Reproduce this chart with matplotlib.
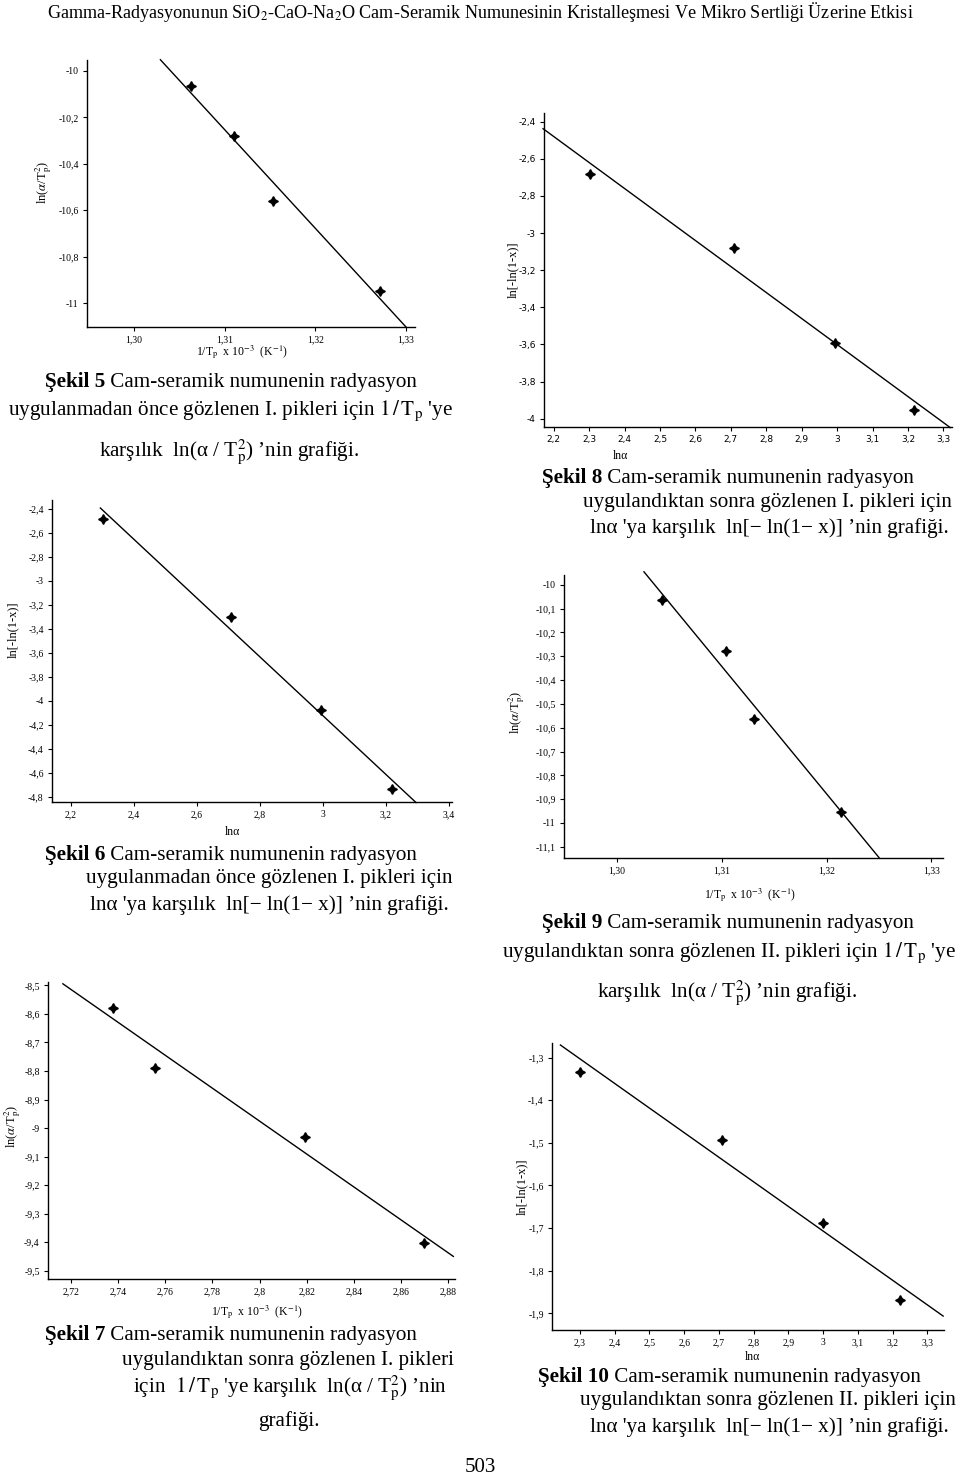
import numpy as np
import matplotlib
matplotlib.use("Agg")
import matplotlib.pyplot as plt

plt.rcParams['font.family'] = ['Liberation Serif', 'DejaVu Serif']
plt.rcParams['mathtext.fontset'] = 'stix'

W, H = 960, 1481

# ---------------- data ----------------
fig5_x = [1.3063, 1.3110, 1.3153, 1.3271]
fig5_y = [-10.063, -10.279, -10.560, -10.948]
fig5_fit = [1.3029, 1.3300]

fig8_x = [2.302, 2.708, 2.995, 3.216]
fig8_y = [-2.684, -3.083, -3.590, -3.955]
fig8_fit = [2.170, 3.319]

fig6_x = [2.304, 2.708, 2.995, 3.219]
fig6_y = [-2.483, -3.302, -4.074, -4.731]
fig6_fit = [2.294, 3.296]

fig9_x = [1.3043, 1.3104, 1.3131, 1.3214]
fig9_y = [-10.064, -10.279, -10.563, -10.954]
fig9_fit = [1.3026, 1.3250]

fig7_x = [2.7378, 2.7558, 2.8192, 2.8697]
fig7_y = [-8.578, -8.789, -9.031, -9.403]
fig7_fit = [2.7167, 2.8821]

fig10_x = [2.301, 2.709, 2.999, 3.222]
fig10_y = [-1.333, -1.4945, -1.688, -1.869]
fig10_fit = [2.2436, 3.3453]

# tick values / labels
t5_x = [1.30, 1.31, 1.32, 1.33]
t5_xl = ["1,30", "1,31", "1,32", "1,33"]
t5_y = [-10.0, -10.2, -10.4, -10.6, -10.8, -11.0]
t5_yl = ["-10", "-10,2", "-10,4", "-10,6", "-10,8", "-11"]

t8_x = [2.2, 2.3, 2.4, 2.5, 2.6, 2.7, 2.8, 2.9, 3.0, 3.1, 3.2, 3.3]
t8_xl = ["2,2", "2,3", "2,4", "2,5", "2,6", "2,7", "2,8", "2,9", "3", "3,1", "3,2", "3,3"]
t8_y = [-2.4, -2.6, -2.8, -3.0, -3.2, -3.4, -3.6, -3.8, -4.0]
t8_yl = ["-2,4", "-2,6", "-2,8", "-3", "-3,2", "-3,4", "-3,6", "-3,8", "-4"]

t6_x = [2.2, 2.4, 2.6, 2.8, 3.0, 3.2, 3.4]
t6_xl = ["2,2", "2,4", "2,6", "2,8", "3", "3,2", "3,4"]
t6_y = [-2.4, -2.6, -2.8, -3.0, -3.2, -3.4, -3.6, -3.8, -4.0, -4.2, -4.4, -4.6, -4.8]
t6_yl = ["-2,4", "-2,6", "-2,8", "-3", "-3,2", "-3,4", "-3,6", "-3,8", "-4", "-4,2", "-4,4", "-4,6", "-4,8"]

t9_x = [1.30, 1.31, 1.32, 1.33]
t9_xl = ["1,30", "1,31", "1,32", "1,33"]
t9_y = [-10.0, -10.1, -10.2, -10.3, -10.4, -10.5, -10.6, -10.7, -10.8, -10.9, -11.0, -11.1]
t9_yl = ["-10", "-10,1", "-10,2", "-10,3", "-10,4", "-10,5", "-10,6", "-10,7", "-10,8", "-10,9", "-11", "-11,1"]

t7_x = [2.72, 2.74, 2.76, 2.78, 2.80, 2.82, 2.84, 2.86, 2.88]
t7_xl = ["2,72", "2,74", "2,76", "2,78", "2,8", "2,82", "2,84", "2,86", "2,88"]
t7_y = [-8.5, -8.6, -8.7, -8.8, -8.9, -9.0, -9.1, -9.2, -9.3, -9.4, -9.5]
t7_yl = ["-8,5", "-8,6", "-8,7", "-8,8", "-8,9", "-9", "-9,1", "-9,2", "-9,3", "-9,4", "-9,5"]

t10_x = [2.3, 2.4, 2.5, 2.6, 2.7, 2.8, 2.9, 3.0, 3.1, 3.2, 3.3]
t10_xl = ["2,3", "2,4", "2,5", "2,6", "2,7", "2,8", "2,9", "3", "3,1", "3,2", "3,3"]
t10_y = [-1.3, -1.4, -1.5, -1.6, -1.7, -1.8, -1.9]
t10_yl = ["-1,3", "-1,4", "-1,5", "-1,6", "-1,7", "-1,8", "-1,9"]

YL_A = r"ln($\alpha$/T$_\mathrm{p}^{2}$)"
YL_B = "ln[-ln(1-x)]"
XL_A = r"1/T$_\mathrm{p}$  x 10$^{-3}$  (K$^{-1}$)"
XL_B = "lnα"

fig = plt.figure(figsize=(W / 100, H / 100), dpi=100)


def fx(px):
    return px / W


def fy(py):
    return 1 - py / H


def panel(box, xlim, ylim, xs, ys, fit, xt, xtl, yt, ytl, ylab, ylab_pos, xlab, xlab_pos,
          tick_font=None):
    l, r, t, b = box
    ax = fig.add_axes([fx(l), fy(b), fx(r) - fx(l), (b - t) / H])
    ax.set_xlim(*xlim)
    ax.set_ylim(*ylim)
    for s in ("top", "right"):
        ax.spines[s].set_visible(False)
    for s in ("left", "bottom"):
        ax.spines[s].set_linewidth(1.0)
    ax.set_xticks(xt)
    ax.set_xticklabels(xtl)
    ax.set_yticks(yt)
    ax.set_yticklabels(ytl)
    ax.tick_params(direction="out", length=3, width=0.8, labelsize=7, pad=3)
    if tick_font:
        for lab in ax.get_xticklabels() + ax.get_yticklabels():
            lab.set_family(tick_font)
            lab.set_fontsize(6.5)
    # least-squares line drawn across the given x-range
    k, c = np.polyfit(xs, ys, 1)
    fx_arr = np.array(fit)
    ax.plot(fx_arr, k * fx_arr + c, color="black", lw=1.0, clip_on=False)
    ax.plot(xs, ys, linestyle="none", marker=(4, 1, 0), markersize=7,
            color="black", clip_on=False)
    fig.text(fx(ylab_pos[0]), fy(ylab_pos[1]), ylab, rotation=90,
             ha="center", va="center", fontsize=9)
    fig.text(fx(xlab_pos[0]), fy(xlab_pos[1]), xlab,
             ha="center", va="center", fontsize=8.5)
    return ax


# Şekil 5
panel((87, 415, 60, 327), (1.2948, 1.3310), (-11.103, -9.953),
      fig5_x, fig5_y, fig5_fit, t5_x, t5_xl, t5_y, t5_yl,
      YL_A, (44, 183), XL_A, (242, 352))
# Şekil 8
panel((544, 952, 113, 427), (2.1726, 3.324), (-4.045, -2.353),
      fig8_x, fig8_y, fig8_fit, t8_x, t8_xl, t8_y, t8_yl,
      YL_B, (513, 270), XL_B, (620, 456), tick_font="DejaVu Sans")
# Şekil 6
panel((52, 452, 500, 802), (2.1406, 3.41), (-4.842, -2.325),
      fig6_x, fig6_y, fig6_fit, t6_x, t6_xl, t6_y, t6_yl,
      YL_B, (13, 630), XL_B, (232, 832))
# Şekil 9
panel((564, 943, 575, 858), (1.29498, 1.3311), (-11.147, -9.959),
      fig9_x, fig9_y, fig9_fit, t9_x, t9_xl, t9_y, t9_yl,
      YL_A, (517, 713), XL_A, (750, 895))
# Şekil 7
panel((48, 455, 982, 1279), (2.7104, 2.8828), (-9.529, -8.488),
      fig7_x, fig7_y, fig7_fit, t7_x, t7_xl, t7_y, t7_yl,
      YL_A, (13, 1127), XL_A, (257, 1312))
# Şekil 10
panel((552, 944, 1043, 1330), (2.2194, 3.3478), (-1.9391, -1.2658),
      fig10_x, fig10_y, fig10_fit, t10_x, t10_xl, t10_y, t10_yl,
      YL_B, (522, 1187), XL_B, (752, 1357))

CAP = 15.2


def line(x, y, s, ha="left"):
    return fig.text(fx(x), fy(y), s, ha=ha, va="center", fontsize=CAP)


def head(x, y, bold, rest):
    tb = fig.text(fx(x), fy(y), bold, ha="left", va="center", fontsize=CAP,
                  fontweight="bold")
    return fig.text(0, 0, rest, fontsize=CAP, va="bottom", ha="left",
                    transform=matplotlib.transforms.offset_copy(
                        fig.transFigure, fig=fig, x=0, y=0))


def head(x, y, bold, rest):
    tb = fig.text(fx(x), fy(y), bold, ha="left", va="center", fontsize=CAP,
                  fontweight="bold")
    return plt.annotate(rest, xy=(1, 0), xycoords=tb, va="bottom", ha="left",
                        fontsize=CAP, annotation_clip=False)


TP = r"$1\,/\,\mathrm{T_p}$"
LNA = r"ln(α / T$_\mathrm{p}^{2}$)"
LNLN = "ln[− ln(1− x)]"

# header
fig.text(0.5, fy(12), "Gamma-Radyasyonunun SiO$_2$-CaO-Na$_2$O Cam-Seramik Numunesinin "
         "Kristalleşmesi Ve Mikro Sertliği Üzerine Etkisi",
         ha="center", va="center", fontsize=13.1)

# Şekil 5
head(45, 382, "Şekil 5", " Cam-seramik numunenin radyasyon")
line(8, 411, "uygulanmadan önce gözlenen I. pikleri için " + TP + " 'ye")
line(99, 452, "karşılık  " + LNA + " ’nin grafiği.")

# Şekil 8
head(542, 478, "Şekil 8", " Cam-seramik numunenin radyasyon")
line(583, 502, "uygulandıktan sonra gözlenen I. pikleri için")
line(590, 528, "lnα 'ya karşılık  " + LNLN + " ’nin grafiği.")

# Şekil 6
head(45, 855, "Şekil 6", " Cam-seramik numunenin radyasyon")
line(86, 879, "uygulanmadan önce gözlenen I. pikleri için")
line(90, 905, "lnα 'ya karşılık  " + LNLN + " ’nin grafiği.")

# Şekil 9
head(542, 923, "Şekil 9", " Cam-seramik numunenin radyasyon")
line(502, 953, "uygulandıktan sonra gözlenen II. pikleri için " + TP + " 'ye")
line(597, 993, "karşılık  " + LNA + " ’nin grafiği.")

# Şekil 7
head(45, 1335, "Şekil 7", " Cam-seramik numunenin radyasyon")
line(122, 1360, "uygulandıktan sonra gözlenen I. pikleri")
line(133, 1388, "için  " + TP + " 'ye karşılık  " + LNA + " ’nin")
line(258, 1421, "grafiği.")

# Şekil 10
head(538, 1377, "Şekil 10", " Cam-seramik numunenin radyasyon")
line(580, 1401, "uygulandıktan sonra gözlenen II. pikleri için")
line(590, 1427, "lnα 'ya karşılık  " + LNLN + " ’nin grafiği.")

# page number
fig.text(0.5, fy(1468), "503", ha="center", va="center", fontsize=15)

fig.savefig("out.png", dpi=100)
